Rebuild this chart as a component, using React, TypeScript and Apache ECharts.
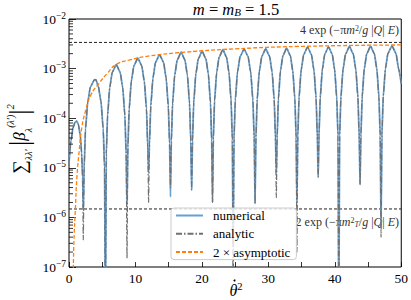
import React, { useEffect, useRef } from "react";
import * as echarts from "echarts";

const SERIF = "'Liberation Serif', 'DejaVu Serif', serif";

// Lobe points shared by the numerical and analytic curves (x = theta-dot^2, y = sum |beta|^2)
const lobePoints: [number, number][] = [
  [0, 1.26e-5], [0.3, 3.55e-5], [0.6, 6.3e-5], [0.9, 8.3e-5], [1.15, 8.7e-5], [1.4, 7.6e-5], [1.7, 4.5e-5], [1.9, 2.0e-5], [2.05, 6.3e-6],
  [2.28, 1.0e-5], [2.48, 6.0e-5], [2.82, 2.1e-4], [3.22, 4.3e-4], [3.82, 5.9e-4], [4.04, 6.0e-4], [4.41, 4.4e-4], [4.81, 2.2e-4], [5.15, 6.0e-5], [5.35, 1.0e-5],
  [5.61, 1.9e-5], [5.81, 1.15e-4], [6.13, 4.2e-4], [6.52, 8.5e-4], [7.11, 1.2e-3], [7.69, 8.5e-4], [8.08, 4.2e-4], [8.41, 1.15e-4], [8.6, 1.9e-5],
  [8.86, 2.6e-5], [9.06, 1.55e-4], [9.38, 5.6e-4], [9.77, 1.15e-3], [10.36, 1.62e-3], [10.94, 1.15e-3], [11.33, 5.6e-4], [11.66, 1.55e-4], [11.85, 2.6e-5],
  [12.11, 3.0e-5], [12.31, 1.8e-4], [12.64, 6.6e-4], [13.03, 1.35e-3], [13.63, 1.9e-3], [14.22, 1.35e-3], [14.61, 6.6e-4], [14.94, 1.8e-4], [15.14, 3.0e-5],
  [15.4, 3.4e-5], [15.59, 2.0e-4], [15.91, 7.4e-4], [16.29, 1.5e-3], [16.87, 2.14e-3], [17.44, 1.5e-3], [17.82, 7.4e-4], [18.14, 2.0e-4], [18.33, 3.4e-5],
  [18.59, 3.55e-5], [18.77, 2.1e-4], [19.09, 7.8e-4], [19.46, 1.58e-3], [20.03, 2.24e-3], [20.6, 1.58e-3], [20.97, 7.8e-4], [21.29, 2.1e-4], [21.47, 3.55e-5],
  [21.72, 3.8e-5], [21.91, 2.3e-4], [22.22, 8.3e-4], [22.59, 1.7e-3], [23.15, 2.4e-3], [23.71, 1.7e-3], [24.08, 8.3e-4], [24.39, 2.3e-4], [24.58, 3.8e-5],
  [24.83, 3.9e-5], [25.03, 2.37e-4], [25.36, 8.6e-4], [25.76, 1.76e-3], [26.35, 2.48e-3], [26.94, 1.76e-3], [27.34, 8.6e-4], [27.67, 2.37e-4], [27.87, 3.9e-5],
  [28.13, 4.0e-5], [28.32, 2.4e-4], [28.64, 8.7e-4], [29.02, 1.78e-3], [29.6, 2.5e-3], [30.18, 1.78e-3], [30.56, 8.7e-4], [30.88, 2.4e-4], [31.07, 4.0e-5],
  [31.32, 4.1e-5], [31.51, 2.45e-4], [31.82, 8.9e-4], [32.19, 1.82e-3], [32.75, 2.57e-3], [33.31, 1.82e-3], [33.68, 8.9e-4], [33.99, 2.45e-4], [34.18, 4.1e-5],
  [34.43, 4.3e-5], [34.62, 2.6e-4], [34.94, 9.4e-4], [35.32, 1.93e-3], [35.9, 2.72e-3], [36.48, 1.93e-3], [36.86, 9.4e-4], [37.18, 2.6e-4], [37.37, 4.3e-5],
  [37.62, 4.4e-5], [37.81, 2.6e-4], [38.12, 9.5e-4], [38.49, 1.95e-3], [39.05, 2.75e-3], [39.61, 1.95e-3], [39.98, 9.5e-4], [40.29, 2.6e-4], [40.48, 4.4e-5],
  [40.73, 4.4e-5], [40.92, 2.66e-4], [41.24, 9.7e-4], [41.62, 1.97e-3], [42.2, 2.79e-3], [42.78, 1.97e-3], [43.16, 9.7e-4], [43.48, 2.66e-4], [43.67, 4.4e-5],
  [43.93, 4.5e-5], [44.12, 2.7e-4], [44.43, 9.8e-4], [44.81, 2.0e-3], [45.38, 2.82e-3], [45.95, 2.0e-3], [46.33, 9.8e-4], [46.64, 2.7e-4], [46.83, 4.5e-5],
  [47.09, 4.6e-5], [47.29, 2.75e-4], [47.62, 1.0e-3], [48.0, 2.04e-3], [48.6, 2.88e-3], [49.2, 2.04e-3], [49.6, 1.0e-3], [50.0, 5.0e-4],
];

// Positions of the minima and their depths for each curve (values below 1e-7 run off the axis)
const dipX = [2.15, 5.48, 8.73, 11.98, 15.27, 18.46, 21.6, 24.7, 28.0, 31.2, 34.3, 37.5, 40.6, 43.8, 46.96];
const numericalDip = [1.4e-6, 1e-8, 1.8e-6, 7.9e-6, 2.6e-6, 3.6e-6, 2.0e-6, 2.5e-7, 1.9e-6, 7.9e-6, 2.0e-6, 6.5e-6, 1e-8, 4.6e-6, 6.3e-7];
const analyticDip = [3.5e-7, 1e-8, 1.5e-7, 2.0e-6, 4.0e-6, 3.6e-6, 2.0e-6, 1e-8, 1.9e-6, 2.5e-6, 2.0e-7, 6.5e-6, 1e-8, 4.6e-6, 4.0e-7];

// 2 x asymptotic envelope
const asymptotic: [number, number][] = [
  [0.55, 3e-8], [0.65, 1e-7], [0.75, 3.5e-7], [0.95, 1.4e-6], [1.2, 6.8e-6], [1.55, 2.3e-5], [1.95, 6.8e-5],
  [2.54, 1.48e-4], [3.29, 2.95e-4], [4.54, 5.1e-4], [5.79, 8.1e-4], [7.04, 1.2e-3], [9.0, 1.48e-3],
  [11.9, 1.78e-3], [17.4, 2.14e-3], [25, 2.5e-3], [34.6, 2.8e-3], [50, 3.0e-3],
];

// Reference levels
const upperLevel = 3.37e-3; // 4 exp(-pi m^2 / g|Q|E)
const lowerLevel = 1.48e-6; // 2 exp(-pi m_T^2 / g|Q|E)
const xRange = [0, 50];

const minorTickValues: number[] = [];
for (let e = -7; e <= -3; e++) for (let m = 2; m <= 9; m++) minorTickValues.push(m * Math.pow(10, e));

function withDips(dips: number[]): [number, number][] {
  const pts = lobePoints.concat(dipX.map((x, i) => [x, dips[i]] as [number, number]));
  return pts.sort((a, b) => a[0] - b[0]);
}

export default function App() {
  const ref = useRef<HTMLDivElement>(null);
  useEffect(() => {
    if (!ref.current) return;
    const chart = echarts.init(ref.current, undefined, { renderer: "svg" });
    const annRich = {
      r: { fontFamily: SERIF, fontSize: 12, fill: "#333" },
      i: { fontFamily: SERIF, fontSize: 12, fontStyle: "italic", fill: "#333" },
      sup: { fontFamily: SERIF, fontSize: 8, fill: "#333", verticalAlign: "top", lineHeight: 9 },
      sub: { fontFamily: SERIF, fontSize: 8, fontStyle: "italic", fill: "#333", verticalAlign: "bottom", lineHeight: 9 },
    };
    const refLine = (v: number) => ({
      type: "line",
      data: xRange.map((x) => [x, v]),
      symbol: "none",
      silent: true,
      lineStyle: { color: "#222", type: [3, 2], width: 1 },
      z: 1,
    });
    chart.setOption({
      animation: false,
      grid: { left: 69, right: 8, top: 19, bottom: 33, show: true, borderColor: "#000", borderWidth: 1 },
      xAxis: {
        type: "value",
        min: 0,
        max: 50,
        interval: 5,
        axisLine: { show: false },
        axisTick: { inside: true, length: 5, lineStyle: { color: "#000", width: 0.8 } },
        axisLabel: {
          formatter: (v: number) => (v % 10 === 0 ? String(v) : ""),
          color: "#000",
          fontFamily: SERIF,
          fontSize: 13.5,
          margin: 4,
        },
        splitLine: { show: false },
      },
      yAxis: {
        type: "log",
        logBase: 10,
        min: 1e-7,
        max: 1e-2,
        axisLine: { show: false },
        axisTick: { inside: true, length: 7, lineStyle: { color: "#000", width: 0.8 } },
        axisLabel: {
          formatter: (v: number) => {
            const e = Math.round(Math.log10(v));
            return `{b|10}{s|${e < 0 ? "\u2212" : ""}${Math.abs(e)}}`;
          },
          rich: {
            b: { fontFamily: SERIF, fontSize: 13.5, lineHeight: 17, color: "#000" },
            s: { fontFamily: SERIF, fontSize: 9.5, lineHeight: 10, verticalAlign: "top", color: "#000" },
          },
          margin: 3,
        },
        splitLine: { show: false },
      },
      legend: {
        left: 171,
        top: 208,
        orient: "vertical",
        itemWidth: 27,
        itemHeight: 12,
        itemGap: 5.3,
        padding: [1, 6, 1, 4],
        backgroundColor: "rgba(255,255,255,0.8)",
        borderColor: "#cccccc",
        borderWidth: 1,
        borderRadius: 3,
        itemStyle: { opacity: 0 },
        textStyle: { fontFamily: SERIF, fontSize: 13, color: "#000", lineHeight: 13, padding: [0, 0, 0, 5] },
        data: ["numerical", "analytic", "2 \u00d7 asymptotic"],
      },
      graphic: [
        {
          type: "text",
          x: 236,
          y: 9,
          style: {
            text: "{i|m}{r| = }{i|m}{sub|B}{r| = 1.5}",
            align: "center",
            verticalAlign: "middle",
            rich: {
              r: { fontFamily: SERIF, fontSize: 16.5, fill: "#000" },
              i: { fontFamily: SERIF, fontSize: 16.5, fontStyle: "italic", fill: "#000" },
              sub: { fontFamily: SERIF, fontSize: 11, fontStyle: "italic", fill: "#000", verticalAlign: "bottom", lineHeight: 10 },
            },
          },
        },
        {
          type: "text",
          x: 236,
          y: 290,
          style: {
            text: "{r|\u03b8}{sup|2}",
            align: "center",
            verticalAlign: "middle",
            rich: {
              r: { fontFamily: SERIF, fontSize: 16, fontStyle: "italic", fill: "#000", lineHeight: 18 },
              sup: { fontFamily: SERIF, fontSize: 10.5, fill: "#000", verticalAlign: "top", lineHeight: 11 },
            },
          },
        },
        {
          type: "circle",
          shape: { cx: 234.5, cy: 280.5, r: 1 },
          style: { fill: "#000" },
        },
        {
          type: "text",
          x: 19,
          y: 139,
          rotation: Math.PI / 2,
          style: {
            text: "{sum|\u2211}{sub|\u03bb\u03bb\u2032} {bar||}{beta|\u03b2}{sub|\u03bb}{sup|(\u03bb\u2032)}{bar||}{sup|2}",
            align: "center",
            verticalAlign: "middle",
            rich: {
              sum: { fontFamily: SERIF, fontSize: 19, fill: "#000", lineHeight: 28 },
              sub: { fontFamily: SERIF, fontSize: 10, fontStyle: "italic", fill: "#000", verticalAlign: "bottom", lineHeight: 11 },
              sup: { fontFamily: SERIF, fontSize: 10, fontStyle: "italic", fill: "#000", verticalAlign: "top", lineHeight: 11 },
              bar: { fontFamily: SERIF, fontSize: 27, fill: "#000", lineHeight: 28 },
              beta: { fontFamily: SERIF, fontSize: 17, fontStyle: "italic", fill: "#000", lineHeight: 28 },
            },
          },
        },
        {
          type: "text",
          x: 399,
          y: 30,
          z: 5,
          style: {
            text: "{r|4 exp (\u2212\u03c0}{i|m}{sup|2}{r|/}{i|g}{r| |}{i|Q}{r|| }{i|E}{r|)}",
            align: "right",
            verticalAlign: "middle",
            rich: annRich,
          },
        },
        {
          type: "text",
          x: 399,
          y: 222,
          z: 0,
          style: {
            text: "{r|2 exp (\u2212\u03c0}{i|m}{sup|2}{sub|T}{r|/}{i|g}{r| |}{i|Q}{r|| }{i|E}{r|)}",
            align: "right",
            verticalAlign: "middle",
            rich: annRich,
          },
        },
      ],
      series: [
        refLine(upperLevel),
        refLine(lowerLevel),
        {
          name: "numerical",
          type: "line",
          data: withDips(numericalDip),
          symbol: "none",
          smooth: 0.2,
          smoothMonotone: "x",
          lineStyle: { color: "#64a0d2", width: 1.8 },
          itemStyle: { color: "#64a0d2" },
          z: 2,
        },
        {
          name: "analytic",
          type: "line",
          data: withDips(analyticDip),
          symbol: "none",
          smooth: 0.2,
          smoothMonotone: "x",
          lineStyle: { color: "#707070", width: 1.2, type: [6, 2, 1.5, 2] },
          itemStyle: { color: "#707070" },
          z: 3,
        },
        {
          name: "2 \u00d7 asymptotic",
          type: "line",
          data: asymptotic,
          symbol: "none",
          smooth: true,
          lineStyle: { color: "#ff7f0e", width: 1.3, type: [4, 2] },
          itemStyle: { color: "#ff7f0e" },
          z: 4,
        },
        {
          type: "custom",
          coordinateSystem: "cartesian2d",
          silent: true,
          clip: false,
          z: 10,
          data: minorTickValues.map((v) => [0, v]),
          encode: { x: 0, y: 1 },
          renderItem: (_p: any, api: any) => {
            const pt = api.coord([api.value(0), api.value(1)]);
            return {
              type: "line",
              shape: { x1: pt[0], y1: pt[1], x2: pt[0] + 4, y2: pt[1] },
              style: { stroke: "#000", lineWidth: 0.8 },
            };
          },
        },
      ],
    });
    return () => chart.dispose();
  }, []);
  return <div ref={ref} style={{ position: "absolute", left: 0, top: 0, width: 411, height: 300 }} />;
}
